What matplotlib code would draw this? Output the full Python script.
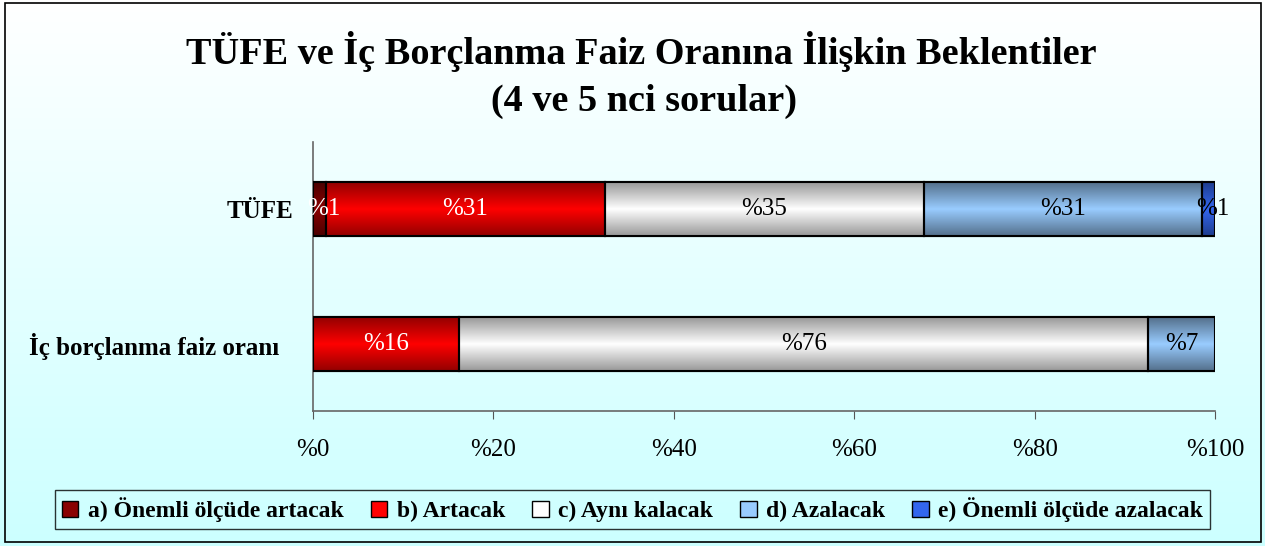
import numpy as np
import matplotlib.pyplot as plt
from matplotlib.patches import Rectangle
from matplotlib.colors import to_rgb

plt.rcParams['font.family'] = ['Liberation Serif', 'DejaVu Serif']

categories = ['İç borçlanma faiz oranı', 'TÜFE']
series = ['a) Önemli ölçüde artacak', 'b) Artacak', 'c) Aynı kalacak',
          'd) Azalacak', 'e) Önemli ölçüde azalacak']
values = {
    'a) Önemli ölçüde artacak': [0.0, 1.4],
    'b) Artacak': [16.2, 31.0],
    'c) Aynı kalacak': [76.4, 35.3],
    'd) Azalacak': [7.4, 30.9],
    'e) Önemli ölçüde azalacak': [0.0, 1.4],
}
xticks = [0, 20, 40, 60, 80, 100]

colors = ['#8a0000', '#ff0000', '#ffffff', '#99ccff', '#3366ee']
edge_dark = [0.55, 0.58, 0.6, 0.55, 0.6]
text_colors = ['white', 'white', 'black', 'black', 'black']

fig = plt.figure(figsize=(12.65, 5.46), dpi=100)

# background gradient (white -> light cyan)
bg = fig.add_axes([0, 0, 1, 1], zorder=-10)
grad = np.linspace(0, 1, 256)[:, None]
top = np.array(to_rgb('#ffffff'))
bot = np.array(to_rgb('#ccffff'))
img = top[None, None, :] * (1 - grad[:, :, None]) + bot[None, None, :] * grad[:, :, None]
bg.imshow(img, aspect='auto', extent=[0, 1, 0, 1])
bg.set_xlim(0, 1)
bg.set_ylim(0, 1)
bg.add_patch(Rectangle((5 / 1265, 4 / 546), 1256 / 1265, 539 / 546,
                       fill=False, edgecolor='black', lw=1.2))
bg.axis('off')

fig.text(0.507, 0.905, 'TÜFE ve İç Borçlanma Faiz Oranına İlişkin Beklentiler',
         ha='center', va='center', fontsize=27.5, fontweight='bold')
fig.text(0.509, 0.815, '(4 ve 5 nci sorular)',
         ha='center', va='center', fontsize=27.5, fontweight='bold')

ax = fig.add_axes([0.2474, 0.2473, 0.7131, 0.4927])
ax.patch.set_alpha(0)
y = np.arange(len(categories))
left = np.zeros(len(categories))
bh = 0.4

for k, name in enumerate(series):
    vals = np.array(values[name])
    bars = ax.barh(y, vals, left=left, height=bh, color=colors[k],
                   edgecolor='black', linewidth=1.5, label=name, zorder=3)
    base = np.array(to_rgb(colors[k]))
    dark = base * edge_dark[k]
    t = np.abs(np.linspace(-1, 1, 64))[:, None, None]
    g = base[None, None, :] * (1 - t) + dark[None, None, :] * t
    for b, v, l, yy in zip(bars, vals, left, y):
        if v <= 0:
            continue
        im = ax.imshow(g, aspect='auto', extent=[l, l + v, yy - bh / 2, yy + bh / 2],
                       zorder=3.5)
        im.set_clip_path(b)
        ax.add_patch(Rectangle((l, yy - bh / 2), v, bh, fill=False,
                               edgecolor='black', lw=1.5, zorder=4))
        ax.text(l + v / 2 + (0.5 if v < 3 else 0), yy, '%' + '%.0f' % v,
                ha='center', va='center', fontsize=18,
                color=text_colors[k], zorder=5)
    left += vals

ax.set_xlim(0, 100)
ax.set_ylim(-0.5, 1.5)
ax.set_xticks(xticks)
ax.set_xticklabels(['%' + str(v) for v in xticks], fontsize=18)
ax.set_yticks(y)
ax.set_yticklabels(categories, fontsize=18, fontweight='bold')
ax.tick_params(axis='y', length=0, pad=24)
ax.yaxis.get_major_ticks()[1].set_pad(14)
ax.tick_params(axis='x', length=6, color='#555555', pad=14)
for s in ['top', 'right']:
    ax.spines[s].set_visible(False)
for s in ['left', 'bottom']:
    ax.spines[s].set_color('#666666')
    ax.spines[s].set_linewidth(1.2)

handles = [Rectangle((0, 0), 1, 1, facecolor=c, edgecolor='black', lw=1)
           for c in colors]
leg = fig.legend(handles, series, loc='center', bbox_to_anchor=(0.5, 0.0665),
                 ncol=5, frameon=True, fancybox=False, edgecolor='black',
                 facecolor='none', prop={'weight': 'bold', 'size': 17},
                 handlelength=0.7, handleheight=0.7, handletextpad=0.4,
                 columnspacing=1.15, borderpad=0.3)
leg.get_frame().set_linewidth(1)

fig.savefig('out.png', dpi=100)
